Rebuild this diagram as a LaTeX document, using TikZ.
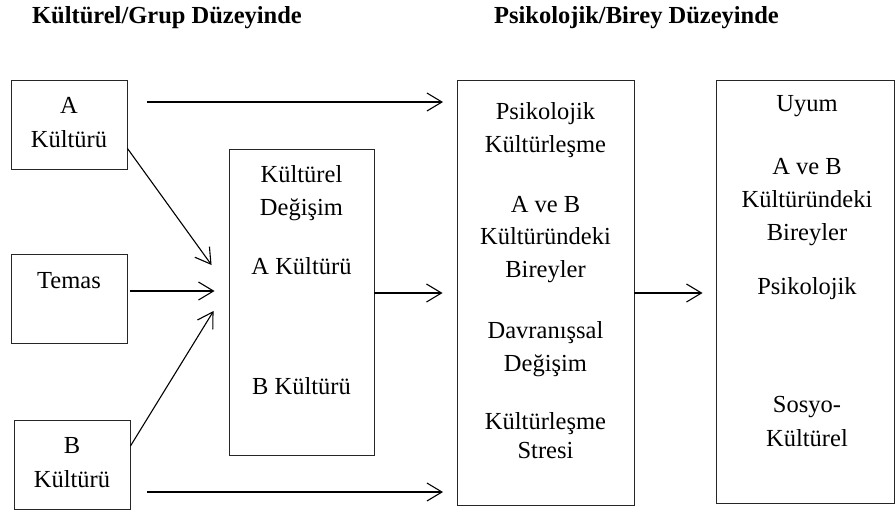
\documentclass[tikz,border=0pt]{standalone}
\usepackage{fontspec}
\setmainfont{Liberation Serif}
\usetikzlibrary{arrows.meta}
\tikzset{
  box/.style={draw=black!85, line width=0.9pt, inner sep=0pt},
  txt/.style={font=\fontsize{24.5}{29}\selectfont, anchor=base, inner sep=0pt},
  head/.style={font=\fontsize{24.5}{29}\selectfont\bfseries, anchor=base, inner sep=0pt},
  arr/.style={line width=1.1pt, -{Straight Barb[length=15pt,width=18pt,line width=1.1pt]}}
}
\begin{document}
\begin{tikzpicture}[x=1pt,y=-1pt]
\useasboundingbox (0,0) rectangle (896,512);
% headers
\node[head] (h1) at (167,23) {Kültürel/Grup Düzeyinde};
\node[head] (h2) at (636.5,23) {Psikolojik/Birey Düzeyinde};
% boxes
\node[box, minimum width=116pt, minimum height=89pt] (A) at (69,124.5) {};
\node[box, minimum width=116pt, minimum height=89pt] (T) at (69,298.5) {};
\node[box, minimum width=116pt, minimum height=89pt] (B) at (72,464.5) {};
\node[box, minimum width=145pt, minimum height=306pt] (KD) at (301.5,302) {};
\node[box, minimum width=177pt, minimum height=425pt] (P) at (545.5,292.5) {};
\node[box, minimum width=178pt, minimum height=423pt] (U) at (805,291.5) {};
% texts
\node[txt] (tA1) at (69,113) {A};
\node[txt] (tA2) at (69,147) {Kültürü};
\node[txt] (tT) at (69,288) {Temas};
\node[txt] (tB1) at (72,453) {B};
\node[txt] (tB2) at (72,487) {Kültürü};
\node[txt] (k1) at (301.5,182) {Kültürel};
\node[txt] (k2) at (301.5,215) {Değişim};
\node[txt] (k3) at (301.5,274) {A Kültürü};
\node[txt] (k4) at (301.5,394) {B Kültürü};
\node[txt] (p1) at (545.5,119) {Psikolojik};
\node[txt] (p2) at (545.5,152) {Kültürleşme};
\node[txt] (p3) at (545.5,212) {A ve B};
\node[txt] (p4) at (545.5,244) {Kültüründeki};
\node[txt] (p5) at (545.5,277) {Bireyler};
\node[txt] (p6) at (545.5,338) {Davranışsal};
\node[txt] (p7) at (545.5,371) {Değişim};
\node[txt] (p8) at (545.5,429) {Kültürleşme};
\node[txt] (p9) at (545.5,458) {Stresi};
\node[txt] (u1) at (807,111) {Uyum};
\node[txt] (u2) at (807,174) {A ve B};
\node[txt] (u3) at (807,207) {Kültüründeki};
\node[txt] (u4) at (807,240) {Bireyler};
\node[txt] (u5) at (807,294) {Psikolojik};
\node[txt] (u6) at (807,412) {Sosyo-};
\node[txt] (u7) at (807,446) {Kültürel};
% connectors
\coordinate (a1s) at (147,102);
\coordinate (a1e) at (443,102);
\coordinate (b1s) at (147,492);
\coordinate (b1e) at (443,492);
\draw[arr] (a1s) -- (a1e);
\draw[arr] (b1s) -- (b1e);
\draw[arr] ([yshift=21pt]A.south east) -- ([xshift=-17pt,yshift=37pt]KD.west);
\draw[arr] ([xshift=3pt,yshift=7.5pt]T.east) -- ([xshift=-14pt,yshift=11pt]KD.west);
\draw[arr] ([yshift=18.5pt]B.east) -- ([xshift=-15pt,yshift=-9pt]KD.west);
\draw[arr] ([yshift=9pt]KD.east) -- ([xshift=-14pt,yshift=-0.5pt]P.west);
\draw[arr] ([yshift=-0.5pt]P.east) -- ([xshift=-13pt,yshift=-1.5pt]U.west);
\end{tikzpicture}
\end{document}
